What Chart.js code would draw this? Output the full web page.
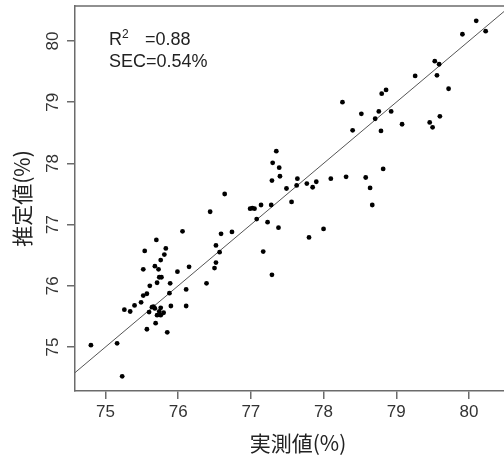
<!DOCTYPE html>
<html>
<head>
<meta charset="utf-8">
<script src="https://cdn.jsdelivr.net/npm/chart.js@4"></script>
<style>
  html, body { margin: 0; padding: 0; overflow: hidden; background: #fff; }
  canvas { display: block; }
</style>
</head>
<body>
<canvas id="c" width="525" height="459"></canvas>
<script>
// measured (実測値) vs estimated (推定値), %
const measured = [
  74.80, 75.16, 75.23, 75.26, 75.34, 75.40, 75.49, 75.52, 75.57, 75.61,
  75.71, 75.52, 75.54, 75.70, 75.83, 75.81, 75.76, 75.68, 75.73, 75.74,
  75.77, 75.64, 75.66, 75.68, 75.60, 75.76, 75.74, 75.80, 75.76, 75.71,
  75.90, 75.57, 75.69, 75.85, 75.88, 75.89, 75.99, 76.11, 76.11, 76.15,
  76.06, 76.39, 76.50, 76.52, 76.52, 76.57, 76.59, 76.74, 76.64, 76.44,
  77.17, 77.29, 77.80, 78.00, 77.08, 77.23, 77.38, 76.99, 77.02, 77.05,
  77.14, 77.28, 77.56, 77.35, 77.30, 77.39, 77.40, 77.29, 77.64, 77.63,
  77.49, 77.77, 77.85, 77.90, 78.10, 78.31, 78.58, 78.64, 78.67, 78.26,
  78.40, 78.52, 78.71, 78.76, 78.93, 78.79, 78.82, 79.08, 78.80, 78.86,
  79.26, 79.46, 79.50, 79.60, 79.53, 79.59, 79.56, 79.72, 79.91, 80.10,
  80.23
];
const estimated = [
  75.03, 75.06, 74.52, 75.61, 75.58, 75.68, 75.73, 75.84, 75.87, 76.00,
  76.05, 76.27, 76.57, 76.75, 76.61, 76.51, 76.42, 76.32, 76.27, 76.14,
  76.14, 75.65, 75.66, 75.63, 75.57, 75.64, 75.58, 75.56, 75.52, 75.52,
  75.67, 75.29, 75.39, 75.24, 75.88, 76.04, 76.23, 75.94, 75.67, 76.31,
  76.89, 76.04, 76.29, 76.38, 76.66, 76.55, 76.85, 76.88, 77.50, 77.21,
  76.56, 76.18, 76.79, 76.93, 77.09, 77.04, 76.95, 77.26, 77.27, 77.26,
  77.32, 77.32, 77.37, 78.20, 78.01, 77.93, 77.79, 77.72, 77.75, 77.64,
  77.59, 77.67, 77.61, 77.70, 77.75, 77.78, 77.77, 77.60, 77.32, 79.00,
  78.54, 78.81, 78.73, 78.85, 78.85, 78.53, 77.91, 78.64, 79.14, 79.20,
  79.43, 78.67, 78.59, 78.77, 79.67, 79.62, 79.44, 79.22, 80.11, 80.33,
  80.16
];
// 1:1 line
const diagLine = [74, 81];
const xTicks = [75, 76, 77, 78, 79, 80];
const yTicks = [75, 76, 77, 78, 79, 80];
const statLines = ['=0.88', 'SEC=0.54%'];

const tickFont = { family: '"Liberation Sans", Arial, sans-serif', size: 17 };
const cjkFont = { family: '"Noto Sans CJK JP", sans-serif', size: 21 };

const extras = {
  id: 'extras',
  afterDraw(chart) {
    const { ctx, chartArea: a } = chart;
    const ys = chart.scales.y;
    ctx.save();
    // top frame line
    ctx.strokeStyle = '#6b6b6b';
    ctx.lineWidth = 1.5;
    ctx.beginPath();
    ctx.moveTo(a.left, a.top);
    ctx.lineTo(a.right, a.top);
    ctx.stroke();
    // y tick labels, rotated like R
    ctx.fillStyle = '#333';
    ctx.font = tickFont.size + 'px ' + tickFont.family;
    ctx.textAlign = 'center';
    ctx.textBaseline = 'middle';
    yTicks.forEach(v => {
      ctx.save();
      ctx.translate(53.5, ys.getPixelForValue(v));
      ctx.rotate(-Math.PI / 2);
      ctx.fillText(String(v), 0, 0);
      ctx.restore();
    });
    // stats text
    ctx.fillStyle = '#222';
    ctx.textAlign = 'left';
    ctx.textBaseline = 'alphabetic';
    ctx.font = '18px ' + tickFont.family;
    ctx.fillText('R', 109, 45);
    ctx.font = '12px ' + tickFont.family;
    ctx.fillText('2', 122, 38);
    ctx.font = '18px ' + tickFont.family;
    ctx.fillText(statLines[0], 145, 45);
    ctx.fillText(statLines[1], 109, 67);
    ctx.restore();
  }
};

new Chart(document.getElementById('c'), {
  type: 'scatter',
  data: {
    datasets: [
      {
        data: measured.map((x, i) => ({ x: x, y: estimated[i] })),
        backgroundColor: '#000',
        borderColor: '#000',
        pointRadius: 2.4,
        pointBorderWidth: 0,
        order: 1
      },
      {
        type: 'line',
        data: diagLine.map(v => ({ x: v, y: v })),
        borderColor: '#555',
        borderWidth: 1,
        pointRadius: 0,
        fill: false,
        order: 2
      }
    ]
  },
  options: {
    responsive: false,
    animation: false,
    events: [],
    layout: { padding: { left: 0, right: 0, top: 6, bottom: 0 } },
    plugins: { legend: { display: false }, tooltip: { enabled: false } },
    scales: {
      x: {
        type: 'linear',
        min: 74.581,
        max: 80.716,
        afterFit: s => { s.height = 68; },
        afterBuildTicks: s => { s.ticks = xTicks.map(v => ({ value: v })); },
        grid: { drawOnChartArea: false, tickLength: 8, color: '#6b6b6b', lineWidth: 1.5 },
        border: { display: true, color: '#6b6b6b', width: 1.5 },
        ticks: { color: '#333', font: tickFont, padding: 3, maxRotation: 0 },
        title: { display: true, text: '実測値(%)', color: '#222', font: cjkFont, padding: { top: 0, bottom: 3 } }
      },
      y: {
        type: 'linear',
        min: 74.281,
        max: 80.572,
        afterFit: s => { s.width = 75; },
        afterBuildTicks: s => { s.ticks = yTicks.map(v => ({ value: v })); },
        grid: { drawOnChartArea: false, tickLength: 8, color: '#6b6b6b', lineWidth: 1.5 },
        border: { display: true, color: '#6b6b6b', width: 1.5 },
        ticks: { display: false },
        title: { display: true, text: '推定値(%)', color: '#222', font: cjkFont, padding: { top: 9, bottom: 0 } }
      }
    }
  },
  plugins: [extras]
});
</script>
</body>
</html>
